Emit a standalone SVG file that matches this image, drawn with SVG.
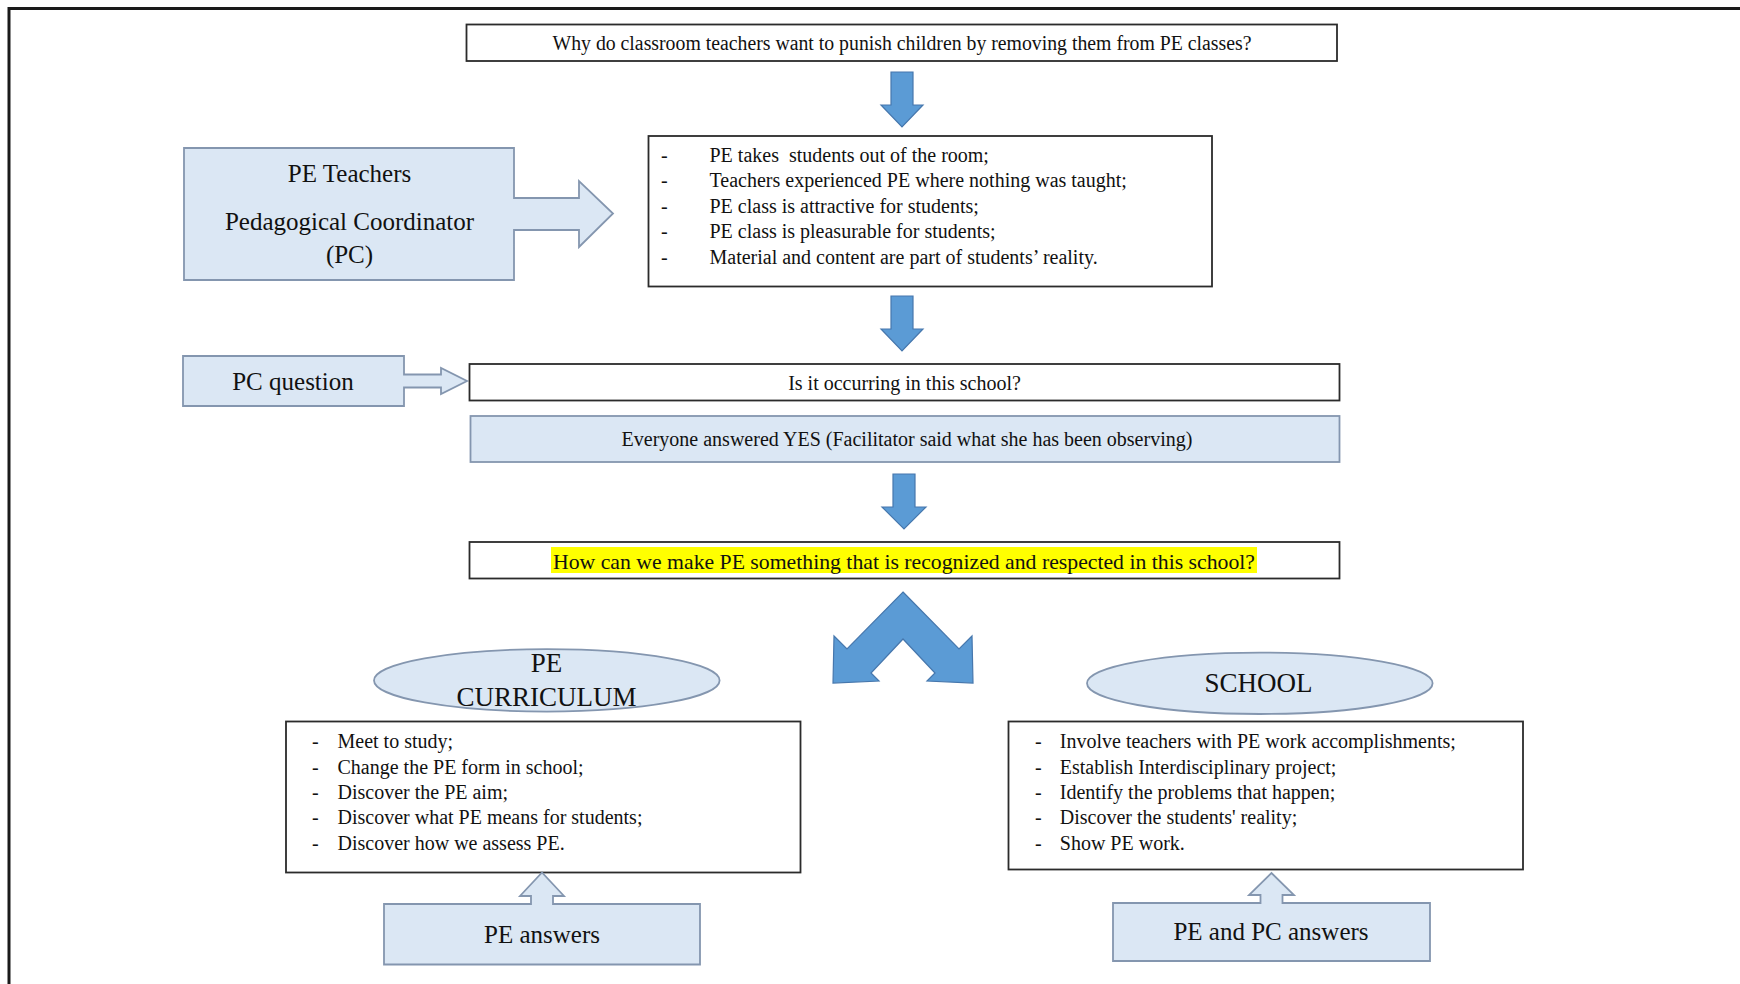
<svg xmlns="http://www.w3.org/2000/svg" width="1740" height="984" viewBox="0 0 1740 984">
  <style>
    .box { fill: #ffffff; stroke: #2b2b2b; stroke-width: 1.8; }
    .pale { fill: #dbe7f4; stroke: #8496af; stroke-width: 1.8; }
    .flow { fill: #5b9bd5; stroke: #4677ad; stroke-width: 1.2; }
    .t { font-family: "Liberation Serif", "Times New Roman", serif; fill: #111; }
    .s20 { font-size: 20px; }
    .s22 { font-size: 21.8px; }
    .s25 { font-size: 25px; }
    .s27 { font-size: 27px; }
    .mid { text-anchor: middle; }
    .pre { white-space: pre; }
  </style>

  <rect width="1740" height="984" fill="#ffffff"/>

  <!-- outer frame (left and top edges) -->
  <path d="M9 984 V8.5 H1740" fill="none" stroke="#1a1a1a" stroke-width="3"/>

  <!-- connectors -->
  <g id="connectors">
    <polygon class="flow" points="891,72 913,72 913,105 923,105 902,127 881,105 891,105"/>
    <polygon class="flow" points="891,296 913,296 913,329 923,329 902,351 881,329 891,329"/>
    <polygon class="flow" points="893,474 915,474 915,507 926,507 904,529 882,507 893,507"/>
    <polygon class="flow" points="903,592 959,649 972,636 973,683 927,681 935,673 903,639 871,673 879,681 833,683 834,636 847,649"/>
  </g>

  <g id="n-question">
    <rect class="box" x="466.5" y="24.5" width="870.5" height="36.5"/>
    <text class="t s20 mid" x="902" y="50" textLength="699" lengthAdjust="spacingAndGlyphs">Why do classroom teachers want to punish children by removing them from PE classes?</text>
  </g>

  <g id="n-participants">
    <polygon class="pale" points="184,148 514,148 514,198 579,198 579,181 613,213.5 579,247 579,230 514,230 514,280 184,280"/>
    <text class="t s25 mid" x="349.5" y="182">PE Teachers</text>
    <text class="t s25 mid" x="349.5" y="230">Pedagogical Coordinator</text>
    <text class="t s25 mid" x="349.5" y="263">(PC)</text>
  </g>

  <g id="n-reasons">
    <rect class="box" x="648.5" y="136" width="563.5" height="150.5"/>
    <g class="t s20">
      <text x="661" y="161.5">-</text><text class="pre" x="709.5" y="161.5">PE takes  students out of the room;</text>
      <text x="661" y="187.1">-</text><text x="709.5" y="187.1">Teachers experienced PE where nothing was taught;</text>
      <text x="661" y="212.7">-</text><text x="709.5" y="212.7">PE class is attractive for students;</text>
      <text x="661" y="238.3">-</text><text x="709.5" y="238.3">PE class is pleasurable for students;</text>
      <text x="661" y="263.9">-</text><text x="709.5" y="263.9">Material and content are part of students’ reality.</text>
    </g>
  </g>

  <g id="n-pc-question">
    <polygon class="pale" points="183,356 404,356 404,374.5 441,374.5 441,368 467,381 441,394 441,387.5 404,387.5 404,406 183,406"/>
    <text class="t s25 mid" x="293" y="389.5">PC question</text>
  </g>

  <g id="n-occurring">
    <rect class="box" x="469.5" y="364" width="870" height="36.5"/>
    <text class="t s20 mid" x="904.5" y="389.5">Is it occurring in this school?</text>
  </g>

  <g id="n-answer-yes">
    <rect class="pale" x="470.5" y="416" width="869" height="46"/>
    <text class="t s20 mid" x="907" y="445.5">Everyone answered YES (Facilitator said what she has been observing)</text>
  </g>

  <g id="n-how">
    <rect class="box" x="469.5" y="542" width="870" height="36.5"/>
    <rect x="551" y="547" width="706" height="26" fill="#ffff00"/>
    <text class="t s22 mid" x="904" y="568.5" textLength="702" lengthAdjust="spacingAndGlyphs">How can we make PE something that is recognized and respected in this school?</text>
  </g>

  <g id="n-curriculum">
    <ellipse class="pale" cx="546.8" cy="680.4" rx="172.8" ry="31.2"/>
    <text class="t s27 mid" x="546.5" y="672">PE</text>
    <text class="t s27 mid" x="546.5" y="706">CURRICULUM</text>
  </g>

  <g id="n-curriculum-list">
    <rect class="box" x="286" y="721.5" width="514.5" height="151"/>
    <g class="t s20">
      <text x="312" y="748.3">-</text><text x="337.5" y="748.3">Meet to study;</text>
      <text x="312" y="773.6">-</text><text x="337.5" y="773.6">Change the PE form in school;</text>
      <text x="312" y="798.9">-</text><text x="337.5" y="798.9">Discover the PE aim;</text>
      <text x="312" y="824.2">-</text><text x="337.5" y="824.2">Discover what PE means for students;</text>
      <text x="312" y="849.5">-</text><text x="337.5" y="849.5">Discover how we assess PE.</text>
    </g>
  </g>

  <g id="n-pe-answers">
    <polygon class="pale" points="384,904 531,904 531,896 520,896 542,872.5 564,896 553,896 553,904 700,904 700,964.5 384,964.5"/>
    <text class="t s25 mid" x="542" y="942.5">PE answers</text>
  </g>

  <g id="n-school">
    <ellipse class="pale" cx="1259.8" cy="683.3" rx="172.8" ry="30.7"/>
    <text class="t s27 mid" x="1258.5" y="691.5">SCHOOL</text>
  </g>

  <g id="n-school-list">
    <rect class="box" x="1008.5" y="721.5" width="514.5" height="148"/>
    <g class="t s20">
      <text x="1035" y="748.3">-</text><text x="1059.8" y="748.3">Involve teachers with PE work accomplishments;</text>
      <text x="1035" y="773.6">-</text><text x="1059.8" y="773.6">Establish Interdisciplinary project;</text>
      <text x="1035" y="798.9">-</text><text x="1059.8" y="798.9">Identify the problems that happen;</text>
      <text x="1035" y="824.2">-</text><text x="1059.8" y="824.2">Discover the students' reality;</text>
      <text x="1035" y="849.5">-</text><text x="1059.8" y="849.5">Show PE work.</text>
    </g>
  </g>

  <g id="n-pe-pc-answers">
    <polygon class="pale" points="1113,903 1260.5,903 1260.5,895 1249,895 1271.5,873 1294,895 1282.5,895 1282.5,903 1430,903 1430,961 1113,961"/>
    <text class="t s25 mid" x="1271" y="940">PE and PC answers</text>
  </g>
</svg>
